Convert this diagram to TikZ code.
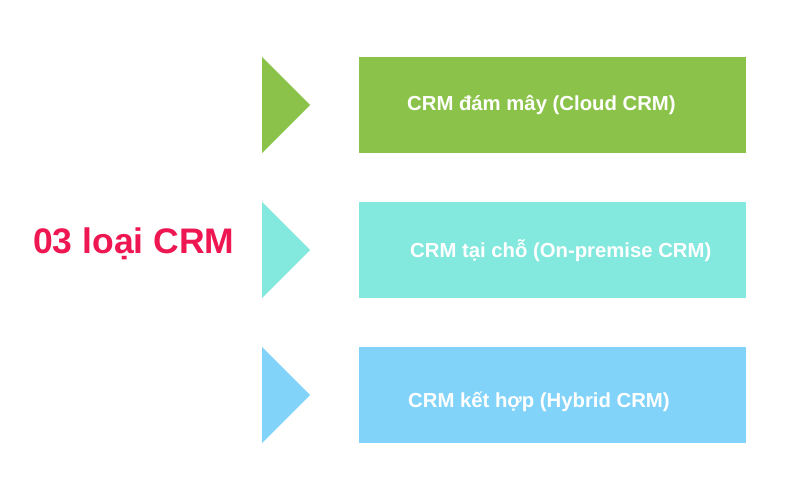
\documentclass[tikz,border=0pt]{standalone}
\usepackage{fontspec}
\setmainfont{Liberation Sans}
\definecolor{cgreen}{HTML}{8BC34A}
\definecolor{cteal}{HTML}{83E8DD}
\definecolor{cblue}{HTML}{82D3F9}
\definecolor{cred}{HTML}{EE1752}
\begin{document}
\begin{tikzpicture}[x=1pt,y=-1pt,
  box/.style={draw=none,inner sep=0,minimum width=387pt,minimum height=96pt,anchor=north west},
  lbl/.style={anchor=base west,inner sep=0,text=white,font=\fontsize{20.3}{24}\selectfont\bfseries}]
\useasboundingbox (0,0) rectangle (800,500);
\fill[white] (0,0) rectangle (800,500);
% triangles
\fill[cgreen] (262,57) -- (310,105) -- (262,153) -- cycle;
\fill[cteal] (262,202) -- (310,250) -- (262,298) -- cycle;
\fill[cblue] (262,347) -- (310,395) -- (262,443) -- cycle;
% boxes
\node[box,fill=cgreen] (b1) at (359,57) {};
\node[box,fill=cteal] (b2) at (359,202) {};
\node[box,fill=cblue] (b3) at (359,347) {};
% labels
\node[lbl] (t1) at (407,111) {CRM đám mây (Cloud CRM)};
\node[lbl] (t2) at (410,257) {CRM tại chỗ (On-premise CRM)};
\node[lbl] (t3) at (408,407) {CRM kết hợp (Hybrid CRM)};
% title
\node[anchor=base west,inner sep=0,text=cred,font=\fontsize{35.5}{42}\selectfont\bfseries] (title) at (33,253) {03 loại CRM};
\end{tikzpicture}
\end{document}
